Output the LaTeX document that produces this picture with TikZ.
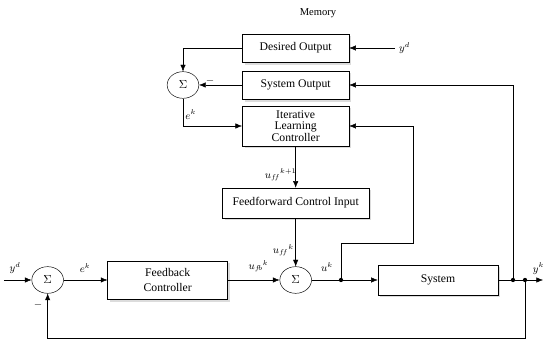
\documentclass[tikz,border=0pt]{standalone}
\usepackage{fontspec}
\setmainfont{Liberation Serif}
\usetikzlibrary{arrows.meta,shapes.geometric,shadows}
\begin{document}
\begin{tikzpicture}[>={Latex[length=2mm,width=1.6mm]},
  blk/.style={draw, fill=white, align=center, minimum height=0.9cm,
    drop shadow={shadow xshift=2pt, shadow yshift=-2pt, fill=gray!55}},
  sumnode/.style={draw, ellipse, minimum width=0.95cm, minimum height=0.8cm, inner sep=0pt},
  dot/.style={circle, fill=black, inner sep=1.3pt},
  lbl/.style={font=\small}]
\useasboundingbox (0,0) rectangle (16.29,10.26);

% memory part
\node (mem) at (9.54,9.87) {\small Memory};
\node[blk, minimum width=3.2cm, minimum height=0.85cm] (desout) at (8.87,8.82) {Desired Output};
\node[blk, minimum width=3.2cm, minimum height=0.85cm] (sysout) at (8.87,7.71) {System Output};
\node[blk, minimum width=3.2cm, minimum height=1.2cm, inner ysep=0pt] (ilc) at (8.87,6.48) {Iterative\\[-2pt]Learning\\[-2pt]Controller};
\node[sumnode] (sum0) at (5.49,7.71) {$\Sigma$};
\node[blk, minimum width=4.4cm] (ff) at (8.87,4.17) {Feedforward Control Input};
\coordinate (ydmem) at (11.85,8.82);

\draw[->] (ydmem) -- (desout.east);
\draw[->] (desout.west) -| (sum0.north);
\draw[->] (sysout.west) -- (sum0.east);
\draw[->] (sum0.south) |- (ilc.west);
\draw[->] (ilc.south) -- (ff.north);
\node[lbl, right] at (ydmem) {$y^d$};
\node[lbl] at (6.3,7.82) {$-$};
\node[lbl] at (5.72,6.83) {$e^k$};
\node[lbl] at (8.42,5.02) {$u_{f\!f}{}^{k+1}$};

% control loop
\node[sumnode] (sum1) at (1.43,1.86) {$\Sigma$};
\node[blk, minimum width=3.6cm, minimum height=1.15cm] (fb) at (5.03,1.86) {Feedback\\Controller};
\node[sumnode] (sum2) at (8.87,1.86) {$\Sigma$};
\node[dot] (udot) at (10.23,1.86) {};
\node[blk, minimum width=3.6cm] (sys) at (13.14,1.86) {System};
\node[dot] (ydot1) at (15.39,1.86) {};
\node[dot] (ydot2) at (15.75,1.86) {};
\coordinate (ydin) at (0.12,1.86);
\coordinate (yout) at (16.29,1.86);
\coordinate (ilcin) at (12.39,2.97);
\coordinate (fbc) at (15.75,0.12);

\draw[->] (ydin) -- (sum1.west);
\draw[->] (sum1) -- (fb);
\draw[->] (fb) -- (sum2);
\draw[->] (ff.south) -- (sum2.north);
\draw (sum2) -- (udot);
\draw[->] (udot) -- (sys);
\draw[->] (udot) |- (ilcin) |- (ilc.east);
\draw (sys) -- (ydot1) -- (ydot2);
\draw[->] (ydot2) -- (yout);
\draw[->] (ydot1) |- (sysout.east);
\draw[->] (ydot2) -- (fbc) -| (sum1.south);

\node[lbl] at (0.45,2.22) {$y^d$};
\node[lbl] at (2.55,2.22) {$e^k$};
\node[lbl] at (1.14,1.11) {$-$};
\node[lbl] at (7.75,2.27) {$u_{f\!b}{}^{k}$};
\node[lbl] at (8.5,2.75) {$u_{f\!f}{}^{k}$};
\node[lbl] at (9.81,2.25) {$u^k$};
\node[lbl] at (16.15,2.2) {$y^k$};
\end{tikzpicture}
\end{document}
